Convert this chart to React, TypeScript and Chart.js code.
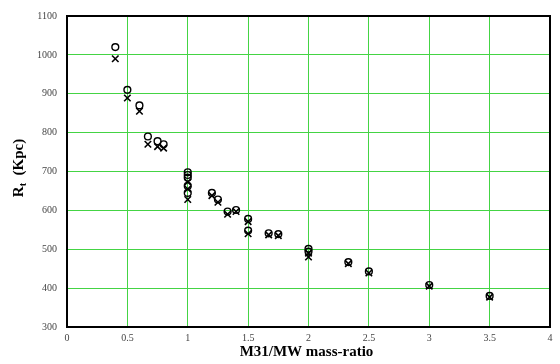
import React, { useEffect, useRef } from "react";
import { Chart, registerables } from "chart.js";

Chart.register(...registerables);

const xStep = 0.5;
const yStep = 100;

const ratioO = [0.4, 0.5, 0.6, 0.67, 0.75, 0.8, 1.0, 1.0, 1.0, 1.0, 1.0, 1.2, 1.25, 1.33, 1.4, 1.5, 1.5, 1.67, 1.75, 2.0, 2.0, 2.33, 2.5, 3.0, 3.5];
const rtO = [1020, 910, 870, 790, 778, 770, 698, 691, 684, 663, 645, 645, 628, 597, 601, 578, 548, 541, 539, 501, 494, 467, 443, 408, 380];

const ratioX = [0.4, 0.5, 0.6, 0.67, 0.75, 0.8, 1.0, 1.0, 1.0, 1.2, 1.25, 1.33, 1.4, 1.5, 1.5, 1.67, 1.75, 2.0, 2.0, 2.33, 2.5, 3.0, 3.5];
const rtX = [990, 889, 855, 770, 764, 760, 673, 655, 628, 638, 621, 590, 597, 571, 540, 537, 535, 490, 480, 463, 439, 405, 377];

const xTitle = "M31/MW mass-ratio";
const yTitleMain = "R";
const yTitleSub = "t";
const yTitleRest = "  (Kpc)";

const framePlugin = {
  id: "frame",
  afterDraw(chart: any) {
    const { ctx, chartArea } = chart;
    ctx.save();
    ctx.strokeStyle = "#000";
    ctx.lineWidth = 2;
    ctx.strokeRect(chartArea.left, chartArea.top, chartArea.right - chartArea.left, chartArea.bottom - chartArea.top);
    ctx.fillStyle = "#000";
    ctx.font = "bold 15px 'Liberation Serif', 'Times New Roman', serif";
    ctx.textAlign = "center";
    ctx.textBaseline = "middle";
    ctx.fillText(xTitle, (chartArea.left + chartArea.right) / 2 - 2, 352);
    ctx.translate(18, 168);
    ctx.rotate(-Math.PI / 2);
    const fBig = "bold 15px 'Liberation Serif', 'Times New Roman', serif";
    const fSmall = "bold 10px 'Liberation Serif', 'Times New Roman', serif";
    ctx.font = fBig;
    const wR = ctx.measureText(yTitleMain).width;
    const wRest = ctx.measureText(yTitleRest).width;
    ctx.font = fSmall;
    const wT = ctx.measureText(yTitleSub).width;
    const total = wR + wT + wRest;
    let x0 = -total / 2;
    ctx.textAlign = "left";
    ctx.textBaseline = "alphabetic";
    ctx.font = fBig;
    ctx.fillText(yTitleMain, x0, 5);
    x0 += wR;
    ctx.font = fSmall;
    ctx.fillText(yTitleSub, x0, 8);
    x0 += wT;
    ctx.font = fBig;
    ctx.fillText(yTitleRest, x0, 5);
    ctx.restore();
  },
};

export default function App() {
  const ref = useRef<HTMLCanvasElement | null>(null);
  useEffect(() => {
    if (!ref.current) return;
    const tickFont = { family: "'Liberation Serif', 'Times New Roman', serif", size: 10 };
    const chart = new Chart(ref.current, {
      type: "scatter",
      data: {
        datasets: [
          {
            label: "O",
            data: ratioO.map((x, i) => ({ x, y: rtO[i] })),
            pointStyle: "circle",
            pointRadius: 3.4,
            pointBorderWidth: 1.4,
            borderColor: "#000",
            backgroundColor: "rgba(0,0,0,0)",
          },
          {
            label: "X",
            data: ratioX.map((x, i) => ({ x, y: rtX[i] })),
            pointStyle: "crossRot",
            pointRadius: 4.6,
            pointBorderWidth: 1.6,
            borderColor: "#000",
            backgroundColor: "#000",
          },
        ],
      },
      options: {
        responsive: false,
        animation: false,
        layout: { padding: { top: 8, right: 10, bottom: 0, left: 0 } },
        plugins: { legend: { display: false }, tooltip: { enabled: false } },
        scales: {
          x: {
            type: "linear",
            min: 0,
            max: 4,
            afterFit: (s: any) => {
              s.height = 37;
            },
            grid: { color: "#44d444", lineWidth: 1, drawTicks: false },
            border: { display: false },
            ticks: {
              stepSize: xStep,
              font: tickFont,
              color: "#444",
              padding: 5,
              maxRotation: 0,
              callback: (v: any) => String(v),
            },
          },
          y: {
            type: "linear",
            min: 300,
            max: 1100,
            afterFit: (s: any) => {
              s.width = 67;
            },
            grid: { color: "#44d444", lineWidth: 1, drawTicks: false },
            border: { display: false },
            ticks: {
              stepSize: yStep,
              font: tickFont,
              color: "#444",
              padding: 10,
              callback: (v: any) => String(v),
            },
          },
        },
      },
      plugins: [framePlugin],
    });
    return () => chart.destroy();
  }, []);
  return (
    <div style={{ position: "absolute", left: 0, top: 0, width: 560, height: 364, background: "#fff" }}>
      <canvas ref={ref} width={560} height={364} />
    </div>
  );
}
